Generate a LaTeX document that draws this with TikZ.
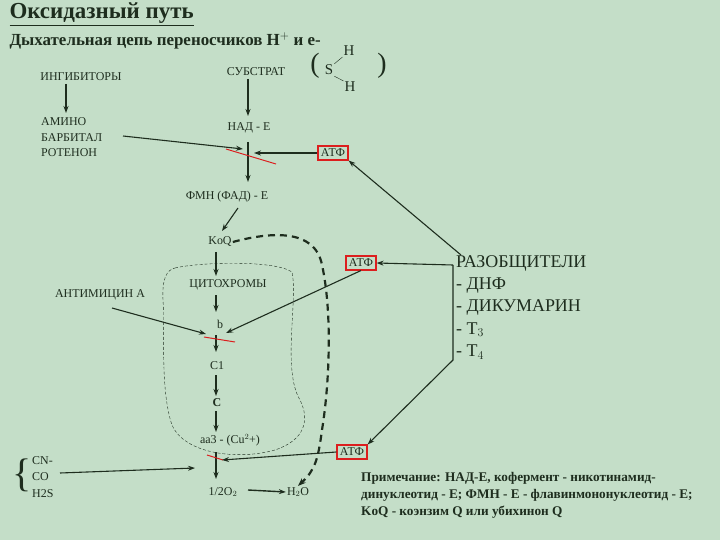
\documentclass[tikz,border=0pt]{standalone}
\usepackage{fontspec}
\setmainfont{Liberation Serif}
\usetikzlibrary{arrows.meta}
\definecolor{bg}{RGB}{196,222,200}
\definecolor{ink}{RGB}{30,45,30}
\definecolor{rd}{RGB}{220,30,30}
\tikzset{
 lbl/.style={font=\fontsize{12}{13}\selectfont, text=ink, inner sep=1pt},
 ar/.style={-{Stealth[length=7pt,width=5pt]}, line width=1.1pt, ink},
 atp/.style={lbl, draw=rd, line width=1.2pt, inner sep=3pt},
 blk/.style={rd, line width=1pt}
}
\begin{document}
\begin{tikzpicture}[x=1bp,y=-1bp]
\fill[bg] (0,0) rectangle (720,540);
\useasboundingbox (0,0) rectangle (720,540);
\node[anchor=west, text=ink, font=\fontsize{23}{24}\selectfont\bfseries] (title) at (6,14) {\underline{Оксидазный путь}};
\node[anchor=west, text=ink, font=\fontsize{17}{18}\selectfont\bfseries] (sub) at (6,41) {Дыхательная цепь переносчиков H$^{+}$ и е-};
% SH2
\node[lbl, font=\fontsize{28}{28}\selectfont] (lp) at (315,66) {(};
\node[lbl, font=\fontsize{15}{15}\selectfont] (s) at (329,70) {S};
\node[lbl, font=\fontsize{15}{15}\selectfont] (h1) at (349,51) {H};
\node[lbl, font=\fontsize{15}{15}\selectfont] (h2) at (350,87) {H};
\node[lbl, font=\fontsize{28}{28}\selectfont] (rp) at (382,66) {)};
\draw[ink] (s.north east) -- (h1.south west);
\draw[ink] (s.south east) -- (h2.north west);
% left inhibitors
\node[lbl] (ing) at (81,77) {ИНГИБИТОРЫ};
\node[lbl, anchor=north west, align=left, font=\fontsize{12}{16}\selectfont] (amino) at (40,116) {АМИНО\\БАРБИТАЛ\\РОТЕНОН};
\draw[ar] (66,84) -- (66,113);
% main chain
\node[lbl] (subs) at (256,72) {СУБСТРАТ};
\node[lbl] (nad) at (249,128) {НАД - Е};
\node[lbl] (fmn) at (227,197) {ФМН (ФАД) - Е};
\node[lbl] (koq) at (220,242) {KoQ};
\node[lbl] (cyt) at (228,285) {ЦИТОХРОМЫ};
\node[lbl] (b) at (220,324) {b};
\node[lbl] (c1) at (217,366) {C1};
\node[lbl, font=\fontsize{12}{13}\selectfont\bfseries] (c) at (217,403) {C};
\node[lbl] (aa3) at (230,440) {аа3 - (Cu$^{2}$+)};
\node[lbl] (o2) at (223,492) {1/2O$_2$};
\node[lbl] (h2o) at (298,492) {H$_2$O};
\node[atp] (atp1) at (333,153) {АТФ};
\node[atp] (atp2) at (361,263) {АТФ};
\node[atp] (atp3) at (352,452) {АТФ};
\node[lbl] (anti) at (100,295) {АНТИМИЦИН А};
\node[lbl, anchor=west, align=left, font=\fontsize{12}{16.5}\selectfont] (cn) at (31,477) {CN-\\CO\\H2S};
\node[lbl, font=\fontsize{40}{40}\selectfont] (br) at (22,475) {\{};
% arrows chain
\draw[ar] (248,79) -- (248,116);
\coordinate (k1) at (248,142);
\draw[ar] (k1) -- (248,182);
\draw[blk] (226,149) -- (276,164);
\draw[ar] (123,136) -- (243,149);
\draw[ar] (atp1.west) -- (254,153);
\draw[ar] (238,208) -- (222,231);
\draw[ar] (216,252) -- (216,276);
\draw[ar] (216,295) -- (216,312);
\draw[ar] (216,335) -- (216,352);
\draw[blk] (204,337) -- (235,342);
\draw[ar] (112,308) -- (206,334);
\draw[ar] (atp2.south) -- (226,333);
\draw[ar] (216,375) -- (216,396);
\draw[ar] (216,411) -- (216,432);
\draw[ar] (216,452) -- (216,479);
\draw[blk] (207,455) -- (223,460);
\draw[ar] (60,473) -- (195,468);
\draw[ar] (atp3.west) -- (222,460);
\draw[ar, line width=1.4pt] (248,490) -- (h2o.west);
% thin dashed blob
\draw[ink, densely dashed, thin] (175,268) .. controls (200,262) and (275,260) .. (292,272)
 .. controls (298,300) and (282,370) .. (300,400)
 .. controls (310,420) and (305,440) .. (275,450)
 .. controls (240,460) and (185,455) .. (172,425)
 .. controls (160,390) and (165,330) .. (163,300)
 .. controls (162,280) and (166,270) .. (175,268);
% thick dashed
\draw[ink, line width=2.2pt, dash pattern=on 7pt off 5pt, -{Stealth[length=8pt,width=6pt]}] (koq.east) .. controls (270,232) and (315,228) .. (322,265)
 .. controls (332,310) and (330,380) .. (322,430)
 .. controls (318,460) and (315,470) .. (h2o.north);
% uncouplers
\node[lbl, anchor=north west, align=left, font=\fontsize{18}{22.5}\selectfont] (raz) at (455,254) {РАЗОБЩИТЕЛИ\\ - ДНФ\\ - ДИКУМАРИН\\ - T$_3$\\ - T$_4$};
\draw[ar] (461,255) -- (atp1.south east);
\coordinate (rc1) at (453,265);
\coordinate (rc2) at (453,360);
\draw[ar] (rc1) -- (atp2.east);
\draw[ar] (rc1) -- (rc2) -- (atp3.north east);
% note
\node[lbl, anchor=north west, align=left, font=\fontsize{13.3}{17}\selectfont\bfseries] (note) at (360,471) {Примечание: НАД-Е, кофермент - никотинамид-\\динуклеотид - Е; ФМН - Е - флавинмононуклеотид - Е;\\KoQ - коэнзим Q или убихинон Q};
\end{tikzpicture}
\end{document}
